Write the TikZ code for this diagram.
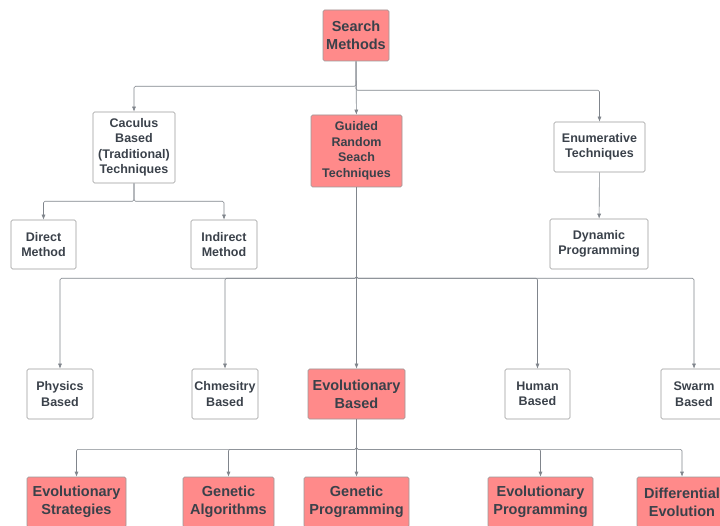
\documentclass[tikz,border=0pt]{standalone}
\usepackage{fontspec}
\setmainfont{Liberation Sans}
\usetikzlibrary{arrows.meta}
\definecolor{boxred}{HTML}{FF8A8A}
\definecolor{txtgray}{HTML}{3A414A}
\definecolor{linegray}{HTML}{80858C}
\tikzset{
  box/.style={draw=black!40, rounded corners=1.5pt, align=center, text=txtgray,
    inner sep=0pt, line width=0.6pt, font=\bfseries\fontsize{12.5}{15.5}\selectfont},
  redbox/.style={box, fill=boxred},
  bigtext/.style={font=\bfseries\fontsize{14.5}{18}\selectfont},
  link/.style={draw=linegray, line width=0.6pt, rounded corners=1.5pt,
    -{Latex[length=5pt,width=4pt]}},
}
\begin{document}
\begin{tikzpicture}[x=1pt,y=-1pt]
    \useasboundingbox (0,0) rectangle (720,526);
    \clip (0,0) rectangle (720,526);
    % top levels
    \node[redbox, bigtext, minimum width=66, minimum height=51] (search) at (356,35.5) {Search\\Methods};
    \node[box, minimum width=82, minimum height=71] (calc) at (134,147.5) {Caculus\\Based\\(Traditional)\\Techniques};
    \node[redbox, minimum width=91, minimum height=72] (guided) at (356.5,151) {Guided\\Random\\Seach\\Techniques};
    \node[box, minimum width=91, minimum height=50] (enum) at (599.5,147) {Enumerative\\Techniques};
    \node[box, minimum width=65, minimum height=49] (direct) at (43.5,244.5) {Direct\\Method};
    \node[box, minimum width=66, minimum height=49] (indirect) at (224,244.5) {Indirect\\Method};
    \node[box, minimum width=98, minimum height=50] (dynamic) at (599,244) {Dynamic\\Programming};
    % third row
    \node[box, minimum width=66, minimum height=50] (physics) at (60,394) {Physics\\Based};
    \node[box, minimum width=66, minimum height=50] (chem) at (225,394) {Chmesitry\\Based};
    \node[redbox, bigtext, minimum width=97, minimum height=50] (evo) at (356.5,394) {Evolutionary\\Based};
    \node[box, minimum width=65, minimum height=50] (human) at (537.5,394) {Human\\Based};
    \node[box, minimum width=66, minimum height=50] (swarm) at (694,394) {Swarm\\Based};
    % bottom row
    \node[redbox, bigtext, minimum width=99, minimum height=50] (es) at (76.5,502) {Evolutionary\\Strategies};
    \node[redbox, bigtext, minimum width=91, minimum height=50] (ga) at (228.5,502) {Genetic\\Algorithms};
    \node[redbox, bigtext, minimum width=105, minimum height=50] (gp) at (356.5,502) {Genetic\\Programming};
    \node[redbox, bigtext, minimum width=105, minimum height=50] (ep) at (540.5,502) {Evolutionary\\Programming};
    \node[redbox, bigtext, minimum width=90, minimum height=50] (de) at (682,502) {Differential\\Evolution};
    % connectors
    \draw[link] (search) -- (guided);
    \draw[link] (search.south) -- ++(0,25) -| (calc.north);
    \draw[link] (search.south) -- ++(0,29) -| (enum.north);
    \foreach \n in {direct,indirect} \draw[link] (calc.south) -- ++(0,18) -| (\n.north);
    \draw[link] (enum) -- (dynamic);
    \foreach \n in {physics,chem,human,swarm} \draw[link] (guided.south) -- ++(0,91) -| (\n.north);
    \draw[link] (guided) -- (evo);
    \foreach \n in {es,ga,ep,de} \draw[link] (evo.south) -- ++(0,30) -| (\n.north);
    \draw[link] (evo) -- (gp);
\end{tikzpicture}
\end{document}
